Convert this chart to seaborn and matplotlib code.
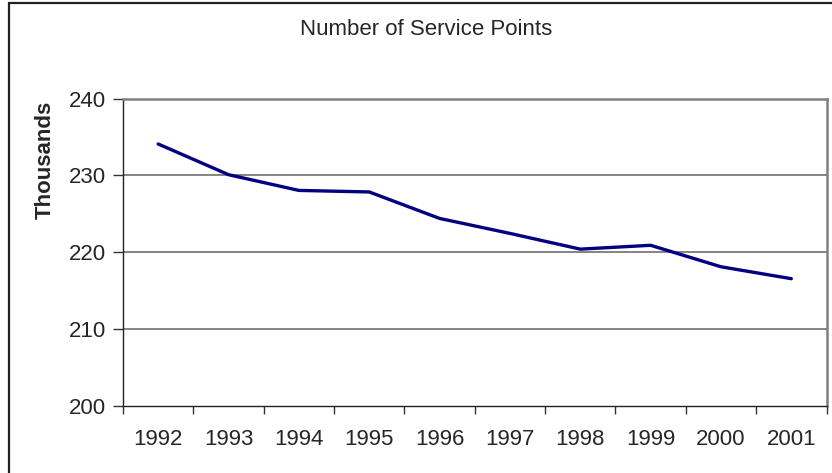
import matplotlib
matplotlib.use("Agg")
import matplotlib.pyplot as plt
import seaborn as sns
import pandas as pd
import numpy as np
from matplotlib.patches import Rectangle
from matplotlib.ticker import FixedLocator

years = ["1992", "1993", "1994", "1995", "1996", "1997", "1998", "1999", "2000", "2001"]
service_points = [234.1, 230.1, 228.05, 227.85, 224.4, 222.45, 220.4, 220.9, 218.1, 216.55]
y_ticks = [200, 210, 220, 230, 240]
title = "Number of Service Points"
ylabel = "Thousands"

sns.set_style("white")
plt.rcParams["font.family"] = ["Liberation Sans", "DejaVu Sans"]

fig = plt.figure(figsize=(8.32, 4.73), dpi=100)
ax = fig.add_axes([123 / 832, 1 - 405.7 / 473, (826.5 - 123) / 832, (405.7 - 98.7) / 473])

df = pd.DataFrame({"pos": np.arange(len(years)), "value": service_points})
sns.lineplot(data=df, x="pos", y="value", ax=ax, color="#000080", linewidth=2.4)

ax.set_xlim(-0.5, len(years) - 0.5)
ax.set_ylim(y_ticks[0], y_ticks[-1])
ax.set_yticks(y_ticks)
ax.set_yticklabels([str(t) for t in y_ticks], fontsize=16)
ax.set_xticks(np.arange(len(years)))
ax.set_xticklabels(years, fontsize=16)
ax.xaxis.set_minor_locator(FixedLocator(np.arange(len(years) + 1) - 0.5))
ax.tick_params(axis="x", which="major", length=0, pad=17)
ax.tick_params(axis="x", which="minor", length=6, width=1, color="#333333", bottom=True)
ax.tick_params(axis="y", which="major", length=7, width=1, color="#333333", left=True, pad=5)
ax.set_xlabel("")
ax.set_ylabel("")

for t in y_ticks[1:-1]:
    ax.axhline(t, color="#707070", linewidth=1.2, zorder=0)

for side in ["left", "bottom"]:
    ax.spines[side].set_color("#222222")
    ax.spines[side].set_linewidth(1.0)
for side in ["top", "right"]:
    ax.spines[side].set_color("#808080")
    ax.spines[side].set_linewidth(1.8)

fig.text(426 / 832, 1 - 29.5 / 473, title, ha="center", va="center", fontsize=16)
fig.text(45.5 / 832, 1 - 159.5 / 473, ylabel, ha="center", va="center", rotation=90,
         fontsize=16, fontweight="bold")

fig.patches.append(Rectangle((9 / 832, -0.1), 1.2, 1 - 3.5 / 473 + 0.1,
                             transform=fig.transFigure, fill=False,
                             edgecolor="#222222", linewidth=1.6))

fig.savefig("out.png", dpi=100)
